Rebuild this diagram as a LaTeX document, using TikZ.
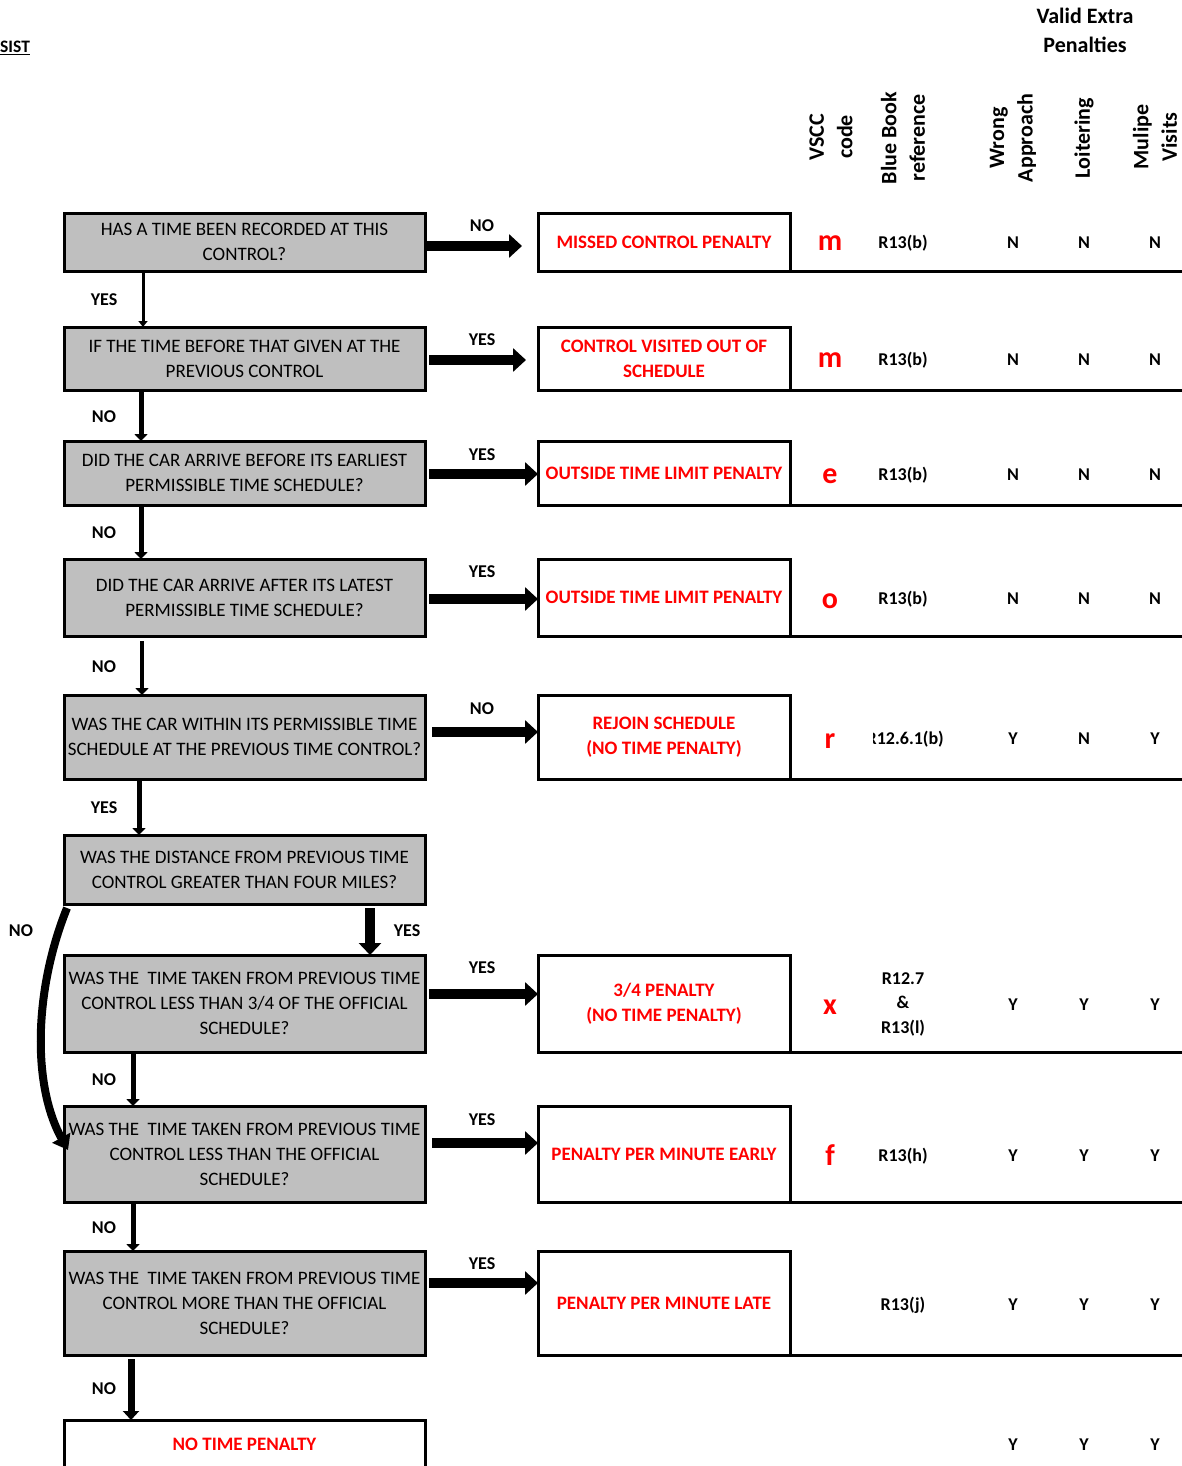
\documentclass[tikz,border=0pt]{standalone}
\usepackage{fontspec}
\setmainfont{Carlito}
\usetikzlibrary{arrows.meta,calc}
\definecolor{boxgray}{RGB}{191,191,191}
\definecolor{pred}{RGB}{255,0,0}
\tikzset{
  qbox/.style={draw, line width=3pt, fill=boxgray, inner sep=0pt, outer sep=0pt,
    minimum width=361pt, align=center, font=\fontsize{19}{25}\selectfont},
  penbox/.style={draw, line width=3pt, fill=white, inner sep=0pt, outer sep=0pt,
    minimum width=252pt, align=center, text=pred, font=\fontsize{19}{25}\selectfont\bfseries},
  lbl/.style={inner sep=0pt, font=\fontsize{18}{22}\selectfont\bfseries},
  val/.style={inner sep=0pt, anchor=base, font=\fontsize{18}{24.5}\selectfont\bfseries},
  code/.style={inner sep=0pt, anchor=base, text=pred, font=\fontsize{30}{30}\selectfont\bfseries},
  hdr/.style={inner sep=0pt, align=center, font=\fontsize{22}{28.5}\selectfont\bfseries},
  rowline/.style={line width=3pt},
  harr/.style={line width=10pt, -{Triangle[width=23pt,length=13pt]}},
  vthin/.style={line width=3pt, -{Triangle[width=9pt,length=6pt]}},
  vmed/.style={line width=5pt, -{Triangle[width=13pt,length=7pt]}},
  vthick/.style={line width=10pt, -{Triangle[width=22pt,length=12pt]}},
  curvearr/.style={line width=8pt, -{Triangle[width=20pt,length=14pt]}},
}
\begin{document}
\begin{tikzpicture}[x=1pt,y=-1pt]
\useasboundingbox (0,0) rectangle (1182,1466);
\coordinate (rEnd) at (1182,0);

% header
\node[anchor=west, inner sep=0pt, font=\fontsize{17.5}{20}\selectfont\bfseries] (sist) at (0,48) {\underline{SIST}};
\node[hdr] (hvalid) at (1085,30.5) {Valid Extra\\Penalties};
\node[hdr, rotate=90] (hvscc) at (831,137) {VSCC\\code};
\node[hdr, rotate=90] (hbb) at (903,138) {Blue Book\\reference};
\node[hdr, rotate=90] (hwa) at (1013,138) {Wrong\\Approach};
\node[hdr, rotate=90] (hlo) at (1084,138) {Loitering};
\node[hdr, rotate=90] (hmv) at (1155,137) {Mulipe\\Visits};

% question boxes
\node[qbox, minimum height=58pt] (q1) at (244.5,242) {HAS A TIME BEEN RECORDED AT THIS\\CONTROL?};
\node[qbox, minimum height=63pt] (q2) at (244.5,358.5) {IF THE TIME BEFORE THAT GIVEN AT THE\\PREVIOUS CONTROL};
\node[qbox, minimum height=64pt] (q3) at (244.5,473) {DID THE CAR ARRIVE BEFORE ITS EARLIEST\\PERMISSIBLE TIME SCHEDULE?};
\node[qbox, minimum height=77pt] (q4) at (244.5,597.5) {DID THE CAR ARRIVE AFTER ITS LATEST\\PERMISSIBLE TIME SCHEDULE?};
\node[qbox, minimum height=84pt] (q5) at (244.5,737) {WAS THE CAR WITHIN ITS PERMISSIBLE TIME\\SCHEDULE AT THE PREVIOUS TIME CONTROL?};
\node[qbox, minimum height=69pt] (q6) at (244.5,869.5) {WAS THE DISTANCE FROM PREVIOUS TIME\\CONTROL GREATER THAN FOUR MILES?};
\node[qbox, minimum height=97pt] (q7) at (244.5,1003.5) {WAS THE\ \ TIME TAKEN FROM PREVIOUS TIME\\CONTROL LESS THAN 3/4 OF THE OFFICIAL\\SCHEDULE?};
\node[qbox, minimum height=96pt] (q8) at (244.5,1154) {WAS THE\ \ TIME TAKEN FROM PREVIOUS TIME\\CONTROL LESS THAN THE OFFICIAL\\SCHEDULE?};
\node[qbox, minimum height=104pt] (q9) at (244.5,1303) {WAS THE\ \ TIME TAKEN FROM PREVIOUS TIME\\CONTROL MORE THAN THE OFFICIAL\\SCHEDULE?};
\node[penbox, minimum width=361pt, minimum height=48pt] (q10) at (244.5,1444) {NO TIME PENALTY};

% penalty boxes
\node[penbox, minimum height=58pt] (p1) at (664,242) {MISSED CONTROL PENALTY};
\node[penbox, minimum height=63pt] (p2) at (664,358.5) {CONTROL VISITED OUT OF\\SCHEDULE};
\node[penbox, minimum height=64pt] (p3) at (664,473) {OUTSIDE TIME LIMIT PENALTY};
\node[penbox, minimum height=77pt] (p4) at (664,597.5) {OUTSIDE TIME LIMIT PENALTY};
\node[penbox, minimum height=84pt] (p5) at (664,737) {REJOIN SCHEDULE\\(NO TIME PENALTY)};
\node[penbox, minimum height=97pt] (p7) at (664,1003.5) {3/4 PENALTY\\(NO TIME PENALTY)};
\node[penbox, minimum height=96pt] (p8) at (664,1154) {PENALTY PER MINUTE EARLY};
\node[penbox, minimum height=104pt] (p9) at (664,1303) {PENALTY PER MINUTE LATE};

% row lines
\foreach \p in {p1,p2,p3,p4,p5,p7,p8,p9}
  \draw[rowline] (\p.south east) -- (\p.south east -| rEnd);

% horizontal arrows
\draw[harr] ([yshift=-4pt]q1.east) -- ([xshift=-16pt,yshift=-4pt]p1.west);
\draw[harr] ([xshift=4pt,yshift=-1.5pt]q2.east) -- ([xshift=-12pt,yshift=-1.5pt]p2.west);
\draw[harr] ([xshift=4pt,yshift=-1pt]q3.east) -- ([yshift=-1pt]p3.west);
\draw[harr] ([xshift=4pt,yshift=-1.5pt]q4.east) -- ([yshift=-1.5pt]p4.west);
\draw[harr] ([xshift=7pt,yshift=5pt]q5.east) -- ([yshift=5pt]p5.west);
\draw[harr] ([xshift=4pt,yshift=9.5pt]q7.east) -- ([yshift=9.5pt]p7.west);
\draw[harr] ([xshift=7pt,yshift=11pt]q8.east) -- ([yshift=11pt]p8.west);
\draw[harr] ([xshift=4pt,yshift=20pt]q9.east) -- ([yshift=20pt]p9.west);

% arrow labels
\node[lbl] (l1) at (482,226) {NO};
\node[lbl] (l2) at (482,340) {YES};
\node[lbl] (l3) at (482,455) {YES};
\node[lbl] (l4) at (482,572) {YES};
\node[lbl] (l5) at (482,709) {NO};
\node[lbl] (l7) at (482,968) {YES};
\node[lbl] (l8) at (482,1120) {YES};
\node[lbl] (l9) at (482,1264) {YES};
\node[lbl] (v1) at (104,300) {YES};
\node[lbl] (v2) at (104,417) {NO};
\node[lbl] (v3) at (104,533) {NO};
\node[lbl] (v4) at (104,667) {NO};
\node[lbl] (v5) at (104,808) {YES};
\node[lbl] (v6) at (407,931) {YES};
\node[lbl] (v6b) at (21,931) {NO};
\node[lbl] (v7) at (104,1080) {NO};
\node[lbl] (v8) at (104,1228) {NO};
\node[lbl] (v9) at (104,1389) {NO};

% vertical arrows
\coordinate (x143) at (143,0);
\coordinate (x141) at (141,0);
\coordinate (x142) at (142,0);
\coordinate (x139) at (139,0);
\coordinate (x370) at (370,0);
\coordinate (x133) at (133,0);
\coordinate (x131) at (131,0);
\draw[vthin] (q1.south -| x143) -- (q2.north -| x143);
\draw[vmed] (q2.south -| x141) -- (q3.north -| x141);
\draw[vmed] (q3.south -| x141) -- (q4.north -| x141);
\draw[vmed, line width=4pt] ($(q4.south -| x142)+(0,5)$) -- (q5.north -| x142);
\draw[vmed] (q5.south -| x139) -- (q6.north -| x139);
\draw[vthick] ($(q6.south -| x370)+(0,4)$) -- (q7.north -| x370);
\draw[vmed] (q7.south -| x133) -- (q8.north -| x133);
\draw[vmed] (q8.south -| x133) -- (q9.north -| x133);
\draw[vmed, line width=7pt, -{Triangle[width=16pt,length=9pt]}] ($(q9.south -| x131)+(0,4)$) -- (q10.north -| x131);
\draw[curvearr] ($(q6.south west)+(3,4)$) .. controls (34,990) and (32,1085) .. ($(q8.west)+(4,-4)$);

% table values
\node[code] (c1) at (830,250) {m};
\node[code] (c2) at (830,367) {m};
\node[code] (c3) at (830,483) {e};
\node[code] (c4) at (830,608) {o};
\node[code] (c5) at (830,748) {r};
\node[code] (c7) at (830,1014) {x};
\node[code] (c8) at (830,1165) {f};

\node[val] (r1) at (903,248) {R13(b)};
\node[val] (r2) at (903,365) {R13(b)};
\node[val] (r3) at (903,480) {R13(b)};
\node[val] (r4) at (903,604) {R13(b)};
\begin{scope}
  \clip (873,700) rectangle (960,780);
  \node[val, anchor=base east] (r5) at (944,744) {R12.6.1(b)};
\end{scope}
\node[val, anchor=center, align=center] (r7) at (903,1004) {R12.7\\\&\\R13(l)};
\node[val] (r8) at (903,1161) {R13(h)};
\node[val] (r9) at (903,1310) {R13(j)};

\foreach \y/\a/\b/\c [count=\i] in {248/N/N/N, 365/N/N/N, 480/N/N/N, 604/N/N/N, 744/Y/N/Y, 1010/Y/Y/Y, 1161/Y/Y/Y, 1310/Y/Y/Y, 1450/Y/Y/Y}{
  \node[val] (wa\i) at (1013,\y) {\a};
  \node[val] (lo\i) at (1084,\y) {\b};
  \node[val] (mv\i) at (1155,\y) {\c};
}
\end{tikzpicture}
\end{document}
